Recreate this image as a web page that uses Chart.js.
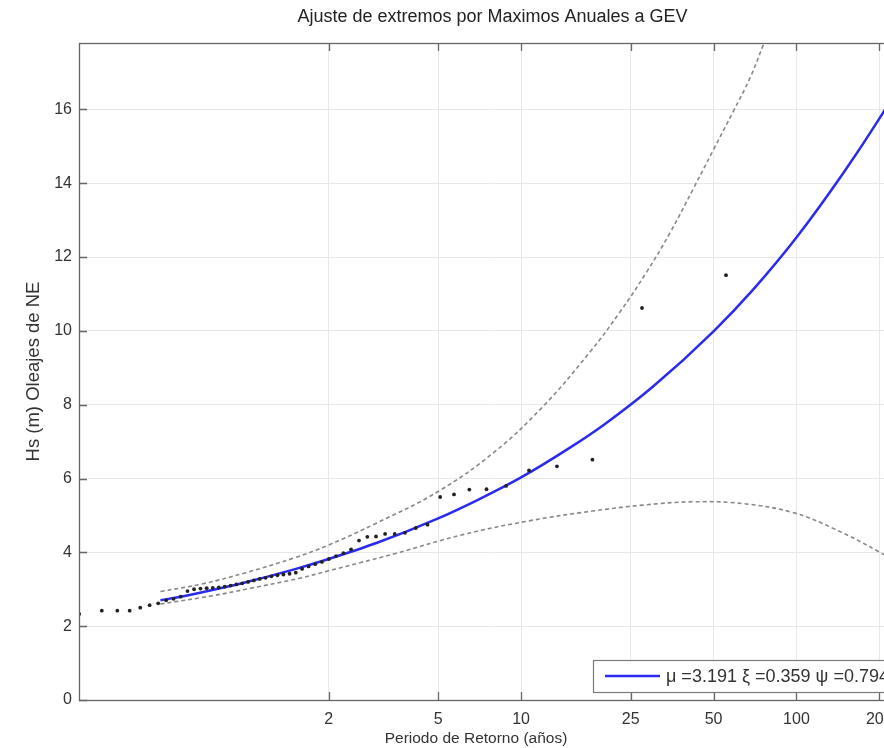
<!DOCTYPE html>
<html><head><meta charset="utf-8">
<script src="https://cdn.jsdelivr.net/npm/chart.js@4.4.0/dist/chart.umd.min.js"></script>
<style>
html,body{margin:0;padding:0;overflow:hidden;background:#fff;width:884px;height:748px}
canvas{display:block}
</style>
</head><body>
<canvas id="c" width="930" height="748"></canvas>
<script>
// ---- data ----
const chartTitle = 'Ajuste de extremos por Maximos Anuales a GEV';
const xTitle = 'Periodo de Retorno (años)';
const yTitle = 'Hs (m) Oleajes de NE';
const legendLabel = 'μ =3.191 ξ =0.359 ψ =0.794';

const xTicks = [2, 5, 10, 25, 50, 100, 200];
const xTickLabels = ['2', '5', '10', '25', '50', '100', '200'];
const yTicks = [0, 2, 4, 6, 8, 10, 12, 14, 16];

// observed annual maxima (return period, Hs)
const obsT = [0.2484,0.3001,0.3417,0.3789,0.4139,0.4477,0.4809,0.5139,0.5470,0.5805,
  0.6145,0.6492,0.6848,0.7213,0.7591,0.7982,0.8388,0.8811,0.9252,0.9712,
  1.0196,1.0703,1.1238,1.1802,1.2399,1.3033,1.3708,1.4427,1.5195,1.6021,
  1.6909,1.7870,1.8908,2.0040,2.1276,2.2635,2.4131,2.5787,2.7640,2.9720,
  3.2072,3.4760,3.7864,4.1459,4.5725,5.0838,5.7078,6.4871,7.4890,8.8241,
  10.69,13.50,18.16,27.49,55.50];
const obsHs = [2.33,2.42,2.42,2.42,2.50,2.57,2.62,2.70,2.74,2.80,
  2.95,3.00,3.02,3.03,3.04,3.05,3.07,3.10,3.13,3.16,
  3.20,3.24,3.28,3.31,3.35,3.38,3.40,3.42,3.45,3.55,
  3.62,3.68,3.74,3.82,3.90,3.98,4.08,4.32,4.42,4.43,
  4.50,4.50,4.53,4.66,4.75,5.50,5.57,5.70,5.71,5.80,
  6.22,6.33,6.51,10.62,11.51];

// fitted GEV curve
const fitT  = [0.49, 0.6, 0.8, 1.0, 1.5, 2, 3, 5, 7, 10, 15, 20, 30, 50, 70, 100, 150, 200, 250];
const fitHs = [2.70, 2.82, 3.02, 3.19, 3.54, 3.82, 4.26, 4.92, 5.43, 6.03, 6.83, 7.46, 8.48, 9.99, 11.14, 12.53, 14.34, 15.75, 16.95];

// upper confidence band
const upT  = [0.49, 0.7, 1.0, 1.5, 2.0, 3.0, 5.0, 8.0, 12, 17.75, 22.8, 28.6, 34.7, 42.2, 49.9, 59, 67.8, 75.8, 80];
const upHs = [2.94, 3.15, 3.45, 3.85, 4.2, 4.8, 5.65, 6.72, 7.95, 9.42, 10.5, 11.6, 12.65, 13.85, 14.9, 15.95, 16.85, 17.75, 18.2];

// lower confidence band
const loT  = [0.49, 0.75, 1.03, 1.57, 2.0, 2.6, 3.5, 6.15, 10.8, 18.2, 27.7, 42.1, 64, 97, 136, 201, 250];
const loHs = [2.6, 2.82, 3.02, 3.3, 3.5, 3.72, 3.97, 4.48, 4.86, 5.12, 5.28, 5.37, 5.32, 5.08, 4.65, 4.0, 3.55];

const pts = (xs, ys) => xs.map((x, i) => ({x: x, y: ys[i]}));

const FONT = 'Liberation Sans, Arial, Helvetica, sans-serif';
const TXT = '#333333';
const AXIS = '#666666';

const frame = {
  id: 'frame',
  afterDatasetsDraw(chart) {
    const {ctx, chartArea: a, scales: {x, y}} = chart;
    ctx.save();
    ctx.strokeStyle = AXIS;
    ctx.lineWidth = 1.3;
    const tl = 8;
    ctx.beginPath();
    xTicks.forEach(v => {
      const px = Math.round(x.getPixelForValue(v)) + 0.5;
      ctx.moveTo(px, a.bottom); ctx.lineTo(px, a.bottom - tl);
      ctx.moveTo(px, a.top); ctx.lineTo(px, a.top + tl);
    });
    yTicks.forEach(v => {
      const py = Math.round(y.getPixelForValue(v)) + 0.5;
      ctx.moveTo(a.left, py); ctx.lineTo(a.left + tl, py);
      ctx.moveTo(a.right, py); ctx.lineTo(a.right - tl, py);
    });
    ctx.stroke();
    ctx.strokeRect(Math.round(a.left) + 0.5, Math.round(a.top) + 0.5,
                   Math.round(a.right - a.left), Math.round(a.bottom - a.top));
    ctx.restore();
  },
  afterDraw(chart) {
    const {ctx, chartArea: a} = chart;
    ctx.save();
    // legend box (inside the axes, south-east)
    const bx = a.left + 514, by = a.bottom - 40, bw = 308, bh = 32;
    ctx.fillStyle = '#ffffff';
    ctx.fillRect(bx, by, bw, bh);
    ctx.strokeStyle = '#7a7a7a';
    ctx.lineWidth = 1.2;
    ctx.strokeRect(bx + 0.5, by + 0.5, bw, bh);
    const ly = by + bh / 2;
    ctx.strokeStyle = '#2a2af0';
    ctx.lineWidth = 2.5;
    ctx.beginPath(); ctx.moveTo(bx + 12, ly); ctx.lineTo(bx + 67, ly); ctx.stroke();
    ctx.fillStyle = TXT;
    ctx.font = '18px ' + FONT;
    ctx.textBaseline = 'middle';
    ctx.textAlign = 'left';
    ctx.fillText(legendLabel, bx + 73, ly + 1);
    // x axis title
    ctx.font = '15.5px ' + FONT;
    ctx.textAlign = 'center';
    ctx.fillText(xTitle, 476, 739);
    ctx.restore();
  }
};

new Chart(document.getElementById('c'), {
  type: 'line',
  data: {
    datasets: [
      { label: 'Observados', data: pts(obsT, obsHs), showLine: false,
        pointRadius: 1.9, pointBackgroundColor: '#222', pointBorderWidth: 0, borderColor: '#222' },
      { label: legendLabel, data: pts(fitT, fitHs), borderColor: '#2a2af0', borderWidth: 2.5,
        pointRadius: 0, cubicInterpolationMode: 'monotone', fill: false },
      { label: 'IC superior', data: pts(upT, upHs), borderColor: '#888888', borderWidth: 1.6,
        borderDash: [4, 3], pointRadius: 0, tension: 0.4, fill: false },
      { label: 'IC inferior', data: pts(loT, loHs), borderColor: '#888888', borderWidth: 1.6,
        borderDash: [4, 3], pointRadius: 0, tension: 0.4, fill: false }
    ]
  },
  options: {
    responsive: false,
    animation: false,
    devicePixelRatio: 1,
    layout: { padding: { left: 0, right: 24, top: 0, bottom: 0 } },
    plugins: {
      legend: { display: false },
      tooltip: { enabled: false },
      title: { display: true, text: chartTitle, fullSize: false, color: '#222',
        font: { family: FONT, size: 18, weight: 'normal' }, padding: { top: 6, bottom: 15.4 } }
    },
    scales: {
      x: {
        type: 'logarithmic', min: 0.248, max: 250,
        afterBuildTicks: s => { s.ticks = xTicks.map(v => ({ value: v })); },
        afterFit: s => { s.height = 48; },
        ticks: { autoSkip: false, maxRotation: 0, padding: 10, color: TXT,
          font: { family: FONT, size: 16 },
          callback: (v) => { const i = xTicks.indexOf(v); return i >= 0 ? xTickLabels[i] : ''; } },
        grid: { color: '#e8e8e8', lineWidth: 1, drawTicks: false },
        border: { display: false },
        title: { display: false, text: xTitle }
      },
      y: {
        type: 'linear', min: 0, max: 17.8,
        afterBuildTicks: s => { s.ticks = yTicks.map(v => ({ value: v })); },
        afterFit: s => { s.width = 79; },
        ticks: { padding: 7, color: TXT, font: { family: FONT, size: 16 } },
        grid: { color: '#e8e8e8', lineWidth: 1, drawTicks: false },
        border: { display: false },
        title: { display: true, text: yTitle, color: TXT, font: { family: FONT, size: 18.5 },
          padding: { top: 23, bottom: 0 } }
      }
    }
  },
  plugins: [frame]
});
</script>
</body></html>
